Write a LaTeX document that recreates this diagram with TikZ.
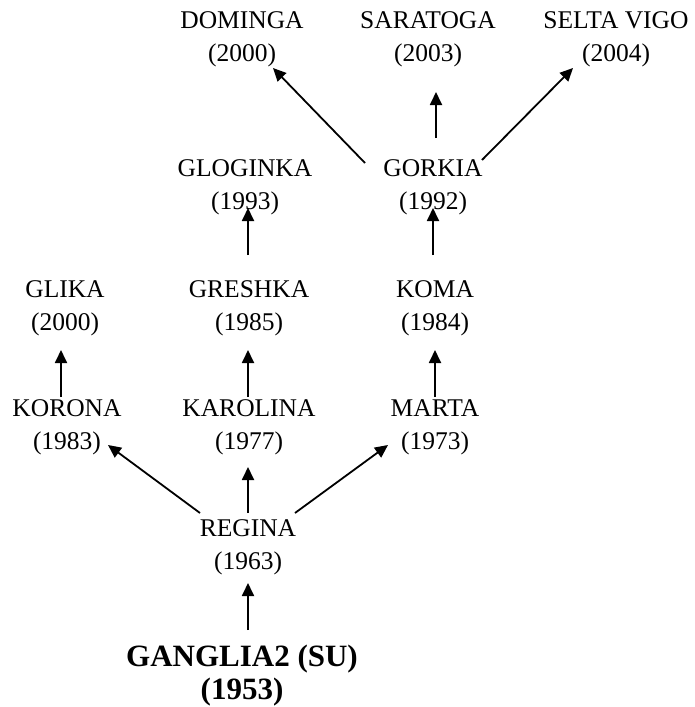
\documentclass[tikz,border=0pt]{standalone}
\usepackage{fontspec}
\setmainfont{Liberation Serif}
\usetikzlibrary{arrows.meta,calc}
\begin{document}
\begin{tikzpicture}[x=1pt,y=-1pt,
  horse/.style={align=center,inner sep=0pt,font=\fontsize{25.5}{33}\selectfont},
  founder/.style={align=center,inner sep=0pt,font=\fontsize{31}{33}\selectfont\bfseries},
  arr/.style={line width=1.8pt,-{Triangle[length=13pt,width=12pt]}}]
\useasboundingbox (0,0) rectangle (695,707);
% generations, oldest at the bottom
\node[founder] (gang) at (242,676) {GANGLIA2 (SU)\\(1953)};
\node[horse] (regina)   at (248,547) {REGINA\\(1963)};
\node[horse] (korona)   at (67,427)  {KORONA\\(1983)};
\node[horse] (karolina) at (249,427) {KAROLINA\\(1977)};
\node[horse] (marta)    at (435,427) {MARTA\\(1973)};
\node[horse] (glika)    at (65,308)  {GLIKA\\(2000)};
\node[horse] (greshka)  at (249,308) {GRESHKA\\(1985)};
\node[horse] (koma)     at (435,308) {KOMA\\(1984)};
\node[horse] (gloginka) at (245,187) {GLOGINKA\\(1993)};
\node[horse] (gorkia)   at (433,187) {GORKIA\\(1992)};
\node[horse] (dominga)  at (242,39)  {DOMINGA\\(2000)};
\node[horse] (saratoga) at (428,39)  {SARATOGA\\(2003)};
\node[horse] (selta)    at (616,39)  {SELTA VIGO\\(2004)};
% descent arrows
\draw[arr] ($(gang)+(6,-46)$) -- ($(regina)+(0,36)$);
\draw[arr] ($(regina)+(0,-34)$) -- ($(karolina)+(-1,40)$);
\draw[arr] ($(regina)+(-48,-34)$) -- ($(korona)+(41,18)$);
\draw[arr] ($(regina)+(47,-34)$) -- ($(marta)+(-47,18)$);
\draw[arr] ($(korona)+(-6,-30)$) -- ($(glika)+(-4,42)$);
\draw[arr] ($(karolina)+(-1,-30)$) -- ($(greshka)+(-1,42)$);
\draw[arr] ($(marta)+(0,-30)$) -- ($(koma)+(0,42)$);
\draw[arr] ($(greshka)+(-1,-53)$) -- ($(gloginka)+(3,21)$);
\draw[arr] ($(koma)+(-2,-53)$) -- ($(gorkia)+(0,21)$);
\draw[arr] ($(gorkia)+(3,-49)$) -- ($(saratoga)+(8,53)$);
\draw[arr] ($(gorkia)+(-68,-24)$) -- ($(dominga)+(31,29)$);
\draw[arr] ($(gorkia)+(49,-27)$) -- ($(selta)+(-43,29)$);
\end{tikzpicture}
\end{document}
